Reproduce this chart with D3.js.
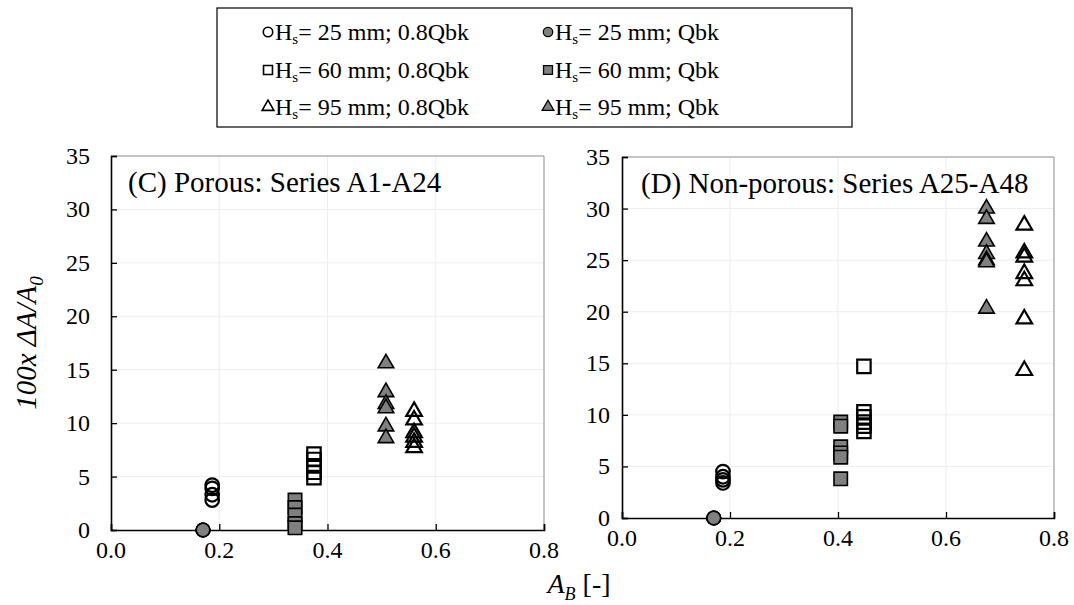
<!DOCTYPE html>
<html>
<head>
<meta charset="utf-8">
<script src="https://cdn.jsdelivr.net/npm/d3@7/dist/d3.min.js"></script>
</head>
<body style="margin:0;background:#fff">
<svg id="chart" width="1074" height="605" style="display:block"></svg>
<script>
// Axis ticks
const xTicks = [0, 0.2, 0.4, 0.6, 0.8];
const yTicks = [0, 5, 10, 15, 20, 25, 30, 35];

// Panel C (porous) — A_B of each group and the measured 100x dA/A0
const cOpenCircleX = 0.187, cOpenCircleY = [4.2, 3.9, 3.3, 2.8];
const cFillCircleX = 0.17,  cFillCircleY = [0, 0, 0, 0];
const cOpenSquareX = 0.375, cOpenSquareY = [7.1, 6.6, 6.0, 5.4, 4.9];
const cFillSquareX = 0.34,  cFillSquareY = [2.8, 2.1, 1.4, 0.6, 0.2];
const cOpenTriX = 0.56,     cOpenTriY = [11.1, 10.3, 9.1, 8.7, 8.2, 7.7];
const cFillTriX = 0.508,    cFillTriY = [15.6, 12.9, 11.8, 11.4, 9.7, 8.6];

// Panel D (non-porous)
const dOpenCircleX = 0.187, dOpenCircleY = [4.5, 4.0, 3.7, 3.4];
const dFillCircleX = 0.17,  dFillCircleY = [0, 0, 0, 0];
const dOpenSquareX = 0.448, dOpenSquareY = [14.7, 10.3, 9.8, 9.3, 8.9, 8.4];
const dFillSquareX = 0.405, dFillSquareY = [9.3, 8.9, 6.9, 6.3, 5.9, 3.8];
const dOpenTriX = 0.745,    dOpenTriY = [28.4, 25.7, 25.3, 23.7, 23.0, 19.3, 14.3];
const dFillTriX = 0.675,    dFillTriY = [30.0, 29.0, 26.8, 25.6, 25.0, 24.8, 20.3];

const legendLabels = [
  ["25", "0.8Qbk"], ["25", "Qbk"],
  ["60", "0.8Qbk"], ["60", "Qbk"],
  ["95", "0.8Qbk"], ["95", "Qbk"]
];

const SERIF = '"Liberation Serif"';
const BASE = 30;              // glyphs are laid out at this size and scaled to the wanted size
const GRAY = "#808080";
const shapes = { circle: d3.symbolCircle, square: d3.symbolSquare, triangle: d3.symbolTriangle };
const sizes = { circle: 145, square: 180, triangle: 105 };

const svg = d3.select("#chart");

// serif text element; returns {node, width}
function label(parent, x, y, str, size, opts = {}) {
  const k = size / BASE;
  const t = parent.append("text")
    .attr("x", 0).attr("y", 0)
    .attr("transform", `translate(${x},${y}) scale(${k})`)
    .attr("xml:space", "preserve")
    .style("font-family", SERIF)
    .style("font-size", BASE + "px")
    .style("white-space", "pre")
    .style("fill", "#000")
    .text(str);
  if (opts.italic) t.style("font-style", "italic");
  if (opts.anchor) t.attr("text-anchor", opts.anchor);
  return { node: t, width: t.node().getComputedTextLength() * k };
}

// text built from runs (for subscripts), each run placed after the previous one
function richText(parent, x, y, runs, anchor) {
  const g = parent.append("g");
  let cx = 0;
  runs.forEach(r => {
    cx += label(g, cx, y + (r.shift || 0), r.text, r.size, { italic: r.italic }).width;
  });
  const dx = anchor === "middle" ? -cx / 2 : 0;
  g.attr("transform", `translate(${x + dx},0)`);
  return g;
}

function buildSeries(p) {
  const mk = (shape, filled, x, ys) => ys.map(y => ({ shape, filled, x, y }));
  return [].concat(
    mk("circle", false, p.openCircleX, p.openCircleY),
    mk("circle", true, p.fillCircleX, p.fillCircleY),
    mk("square", true, p.fillSquareX, p.fillSquareY),
    mk("square", false, p.openSquareX, p.openSquareY),
    mk("triangle", true, p.fillTriX, p.fillTriY),
    mk("triangle", false, p.openTriX, p.openTriY)
  );
}

function drawPanel(cfg) {
  const x = d3.scaleLinear().domain([0, 0.8]).range([cfg.left, cfg.right]);
  const y = d3.scaleLinear().domain([0, 35]).range([cfg.bottom, cfg.top]);
  const g = svg.append("g");

  // gridlines
  g.selectAll(".gx").data(xTicks.slice(1, -1)).join("line")
    .attr("x1", d => x(d)).attr("x2", d => x(d))
    .attr("y1", cfg.top).attr("y2", cfg.bottom)
    .attr("stroke", "#ededed").attr("stroke-width", 1);
  g.selectAll(".gy").data(yTicks.slice(1, -1)).join("line")
    .attr("x1", cfg.left).attr("x2", cfg.right)
    .attr("y1", d => y(d)).attr("y2", d => y(d))
    .attr("stroke", "#ededed").attr("stroke-width", 1);

  // top / right frame
  g.append("path")
    .attr("d", `M${cfg.left},${cfg.top}H${cfg.right}V${cfg.bottom}`)
    .attr("fill", "none").attr("stroke", "#8a8a8a").attr("stroke-width", 1);

  // axes with inward ticks; labels drawn separately below
  const xAxis = d3.axisBottom(x).tickValues(xTicks).tickSize(-6).tickFormat("");
  const yAxis = d3.axisLeft(y).tickValues(yTicks).tickSize(-6).tickFormat("");
  const gx = g.append("g").attr("transform", `translate(0,${cfg.bottom})`).call(xAxis);
  const gy = g.append("g").attr("transform", `translate(${cfg.left},0)`).call(yAxis);
  [gx, gy].forEach(a => {
    a.selectAll(".tick text").remove();
    a.select(".domain").attr("stroke", "#000").attr("stroke-width", 1.6);
    a.selectAll(".tick line").attr("stroke", "#000").attr("stroke-width", 1.3);
  });

  // tick labels
  const fx = d3.format(".1f");
  xTicks.forEach(v => label(g, x(v), cfg.bottom + cfg.xLabelDrop, fx(v), 24, { anchor: "middle" }));
  yTicks.forEach(v => label(g, cfg.left - cfg.yLabelGap, y(v) + 8, String(v), 24, { anchor: "end" }));

  // panel title
  label(g, cfg.left + cfg.titleDx, cfg.top + 36, cfg.title, 29);

  // markers
  g.selectAll(".pt").data(buildSeries(cfg.data)).join("path")
    .attr("transform", d => `translate(${x(d.x)},${y(d.y)})`)
    .attr("d", d => d3.symbol(shapes[d.shape], sizes[d.shape])())
    .attr("fill", d => d.filled ? GRAY : "none")
    .attr("stroke", "#000")
    .attr("stroke-width", d => d.filled ? 1.6 : 2.2);
}

drawPanel({
  left: 111, right: 544, top: 156, bottom: 530, xLabelDrop: 28, yLabelGap: 21, titleDx: 17,
  title: "(C) Porous: Series A1-A24",
  data: {
    openCircleX: cOpenCircleX, openCircleY: cOpenCircleY,
    fillCircleX: cFillCircleX, fillCircleY: cFillCircleY,
    openSquareX: cOpenSquareX, openSquareY: cOpenSquareY,
    fillSquareX: cFillSquareX, fillSquareY: cFillSquareY,
    openTriX: cOpenTriX, openTriY: cOpenTriY,
    fillTriX: cFillTriX, fillTriY: cFillTriY
  }
});

drawPanel({
  left: 622, right: 1054, top: 157, bottom: 518, xLabelDrop: 28, yLabelGap: 12, titleDx: 19,
  title: "(D) Non-porous: Series A25-A48",
  data: {
    openCircleX: dOpenCircleX, openCircleY: dOpenCircleY,
    fillCircleX: dFillCircleX, fillCircleY: dFillCircleY,
    openSquareX: dOpenSquareX, openSquareY: dOpenSquareY,
    fillSquareX: dFillSquareX, fillSquareY: dFillSquareY,
    openTriX: dOpenTriX, openTriY: dOpenTriY,
    fillTriX: dFillTriX, fillTriY: dFillTriY
  }
});

// y-axis title: 100x ΔA/A0 (rotated)
const yTitleG = svg.append("g").attr("transform", "translate(36,343) rotate(-90)");
richText(yTitleG, 0, 0, [
  { text: "100x ΔA/A", size: 29, italic: true },
  { text: "0", size: 19, italic: true, shift: 7 }
], "middle");

// x-axis title: A_B [-]
richText(svg, 579, 593, [
  { text: "A", size: 28, italic: true },
  { text: "B", size: 18, italic: true, shift: 7 },
  { text: " [-]", size: 28 }
], "middle");

// legend
const lg = svg.append("g");
lg.append("rect").attr("x", 217).attr("y", 8).attr("width", 635).attr("height", 119)
  .attr("fill", "#fff").attr("stroke", "#000").attr("stroke-width", 1.2);

const legendShapes = ["circle", "circle", "square", "square", "triangle", "triangle"];
const legendSizes = { circle: 70, square: 80, triangle: 60 };
const colX = [268, 548];
const rowY = [32, 70, 107];
legendLabels.forEach((lab, i) => {
  const cx = colX[i % 2], cy = rowY[Math.floor(i / 2)];
  const filled = i % 2 === 1;
  lg.append("path")
    .attr("transform", `translate(${cx},${cy})`)
    .attr("d", d3.symbol(shapes[legendShapes[i]], legendSizes[legendShapes[i]])())
    .attr("fill", filled ? GRAY : "none")
    .attr("stroke", "#000").attr("stroke-width", filled ? 1.3 : 1.6);
  richText(lg, cx + 7, cy + 8, [
    { text: "H", size: 24 },
    { text: "s", size: 15, shift: 4 },
    { text: `= ${lab[0]} mm; ${lab[1]}`, size: 24 }
  ]);
});
</script>
</body>
</html>
